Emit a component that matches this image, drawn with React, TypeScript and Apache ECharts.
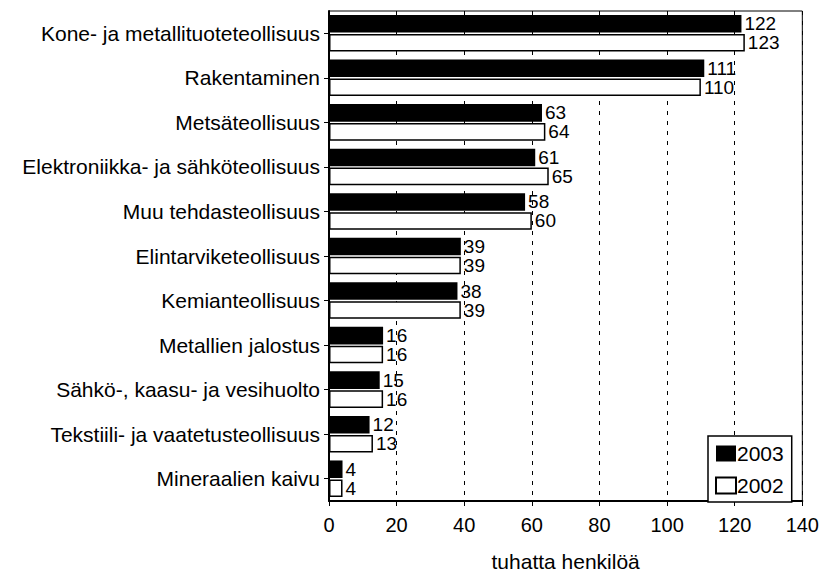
import React, { useEffect, useRef } from "react";
import * as echarts from "echarts";

const categories = [
  "Kone- ja metallituoteteollisuus",
  "Rakentaminen",
  "Metsäteollisuus",
  "Elektroniikka- ja sähköteollisuus",
  "Muu tehdasteollisuus",
  "Elintarviketeollisuus",
  "Kemianteollisuus",
  "Metallien jalostus",
  "Sähkö-, kaasu- ja vesihuolto",
  "Tekstiili- ja vaatetusteollisuus",
  "Mineraalien kaivu",
];
const values2003 = [122, 111, 63, 61, 58, 39, 38, 16, 15, 12, 4];
const values2002 = [123, 110, 64, 65, 60, 39, 39, 16, 16, 13, 4];
const seriesNames = ["2003", "2002"];
const xTicks = { min: 0, max: 140, interval: 20 };
const xAxisTitle = "tuhatta henkilöä";

const FONT = "'Liberation Sans', Arial, Helvetica, sans-serif";

export default function App() {
  const ref = useRef<HTMLDivElement>(null);
  useEffect(() => {
    if (!ref.current) return;
    const chart = echarts.init(ref.current, undefined, { renderer: "svg" });
    const label = {
      show: true,
      position: "right",
      distance: 3,
      fontSize: 19,
      lineHeight: 18,
      color: "#000",
      fontFamily: FONT,
    };
    chart.setOption({
      animation: false,
      backgroundColor: "#fff",
      textStyle: { fontFamily: FONT, color: "#000" },
      grid: {
        left: 329,
        right: 18,
        top: 11,
        bottom: 69,
        show: true,
        borderColor: "#000",
        borderWidth: 1,
        backgroundColor: "transparent",
      },
      legend: {
        orient: "vertical",
        left: 708,
        top: 436,
        padding: [7, 8, 6, 7],
        itemGap: 11,
        itemWidth: 20,
        itemHeight: 16,
        icon: "rect",
        borderColor: "#000",
        borderWidth: 1.5,
        backgroundColor: "#fff",
        borderRadius: 0,
        textStyle: { fontSize: 21, color: "#000", fontFamily: FONT, padding: [0, 0, 0, -4] },
        data: seriesNames,
      },
      xAxis: {
        type: "value",
        min: xTicks.min,
        max: xTicks.max,
        interval: xTicks.interval,
        name: xAxisTitle,
        nameLocation: "middle",
        nameGap: 50,
        nameTextStyle: { fontSize: 21, color: "#000", fontFamily: FONT },
        axisLine: { show: true, lineStyle: { color: "#000", width: 2 } },
        axisTick: { show: true, length: 5, lineStyle: { color: "#000", width: 1 } },
        axisLabel: { fontSize: 20, color: "#000", margin: 14, fontFamily: FONT },
        splitLine: {
          show: true,
          lineStyle: { color: "#000", width: 1, type: [4, 6] },
        },
      },
      yAxis: {
        type: "category",
        inverse: true,
        data: categories,
        axisLine: { show: true, lineStyle: { color: "#000", width: 2 } },
        axisTick: { show: true, alignWithLabel: true, length: 5, lineStyle: { color: "#000", width: 1 } },
        axisLabel: { fontSize: 21, color: "#000", margin: 9, fontFamily: FONT },
        splitLine: { show: false },
      },
      series: [
        {
          name: seriesNames[0],
          type: "bar",
          data: values2003,
          barCategoryGap: "18%",
          barGap: "8%",
          itemStyle: { color: "#000", borderColor: "#000", borderWidth: 0 },
          label,
        },
        {
          name: seriesNames[1],
          type: "bar",
          data: values2002,
          barCategoryGap: "18%",
          barGap: "8%",
          itemStyle: { color: "#fff", borderColor: "#000", borderWidth: 1.5 },
          label,
        },
      ],
    });
    return () => chart.dispose();
  }, []);
  return <div ref={ref} style={{ width: 822, height: 577, position: "absolute", left: 0, top: 0 }} />;
}
